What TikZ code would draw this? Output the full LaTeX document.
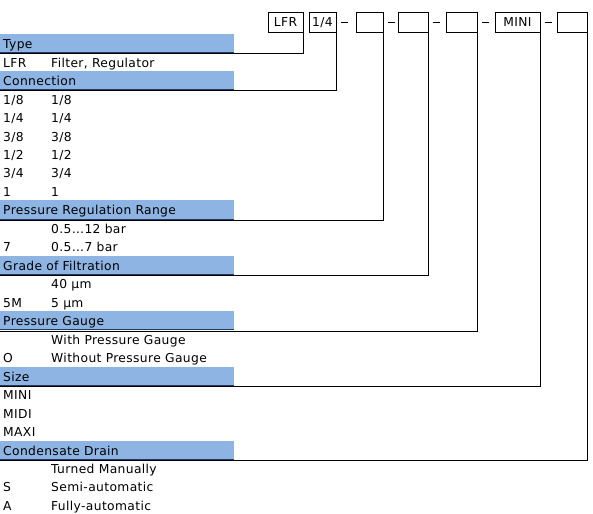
\documentclass[tikz,border=0pt]{standalone}
\usepackage{fontspec}
\setmainfont{DejaVu Sans}[LetterSpace=3]
\usetikzlibrary{positioning,calc}
\definecolor{barblue}{HTML}{8DB4E2}
\definecolor{barnavy}{HTML}{1F3864}

\begin{document}
\begin{tikzpicture}[x=1pt,y=-1pt,font=\fontsize{12.3}{14}\selectfont,
  codebox/.style={draw,line width=.9pt,minimum height=20.4pt,inner sep=0pt,text height=9pt,text depth=0pt},
  headbar/.style={fill=barblue,anchor=base west,inner xsep=3pt,inner ysep=0pt,text width=228pt,text height=14.5pt,text depth=3.7pt},
  cell/.style={anchor=base west,inner sep=0pt},
  wire/.style={line width=.9pt}]
\useasboundingbox (0,0) rectangle (593,513);
% order code boxes
\node[codebox,minimum width=35pt] (lfr) at (285.5,22.5) {LFR};
\node[codebox,minimum width=27pt] (port) at (322.5,22.5) {1/4};
\node[codebox,minimum width=27pt] (rangebox) at (369.5,22.5) {};
\node[codebox,minimum width=30pt] (filtbox) at (413,22.5) {};
\node[codebox,minimum width=31pt] (gaugebox) at (461.5,22.5) {};
\node[codebox,minimum width=45pt] (sizebox) at (517.5,22.5) {MINI};
\node[codebox,minimum width=30pt] (drainbox) at (572,22.5) {};
\foreach \a in {port,rangebox,filtbox,gaugebox,sizebox}{
\draw[wire] ($(\a.east)+(5,0)$) -- ++(7,0);}
% header bars
\foreach \r/\name/\txt in {0/type/Type,2/conn/Connection,9/range/Pressure Regulation Range,12/filt/Grade of Filtration,15/gauge/Pressure Gauge,18/size/Size,22/drain/Condensate Drain}{
\node[headbar] (\name) at (0,48.7+18.47*\r) {\txt};
\draw[barnavy,line width=.6pt] (\name.south west) -- (\name.south east);}
% connectors
\foreach \b/\h in {lfr/type,port/conn,rangebox/range,filtbox/filt,gaugebox/gauge,sizebox/size,drainbox/drain}{
\draw[wire] (\b.south east) |- ($(\h.south west)+(0,1.3)$);}
% codes and descriptions
\foreach \r/\c in {1/LFR,3/{1/8},4/{1/4},5/{3/8},6/{1/2},7/{3/4},8/1,11/7,14/5M,17/O,19/MINI,20/MIDI,21/MAXI,24/S,25/A}{
\node[cell] (code\r) at (3,48.7+18.47*\r) {\c};}
\foreach \r/\d in {1/{Filter, Regulator},3/{1/8},4/{1/4},5/{3/8},6/{1/2},7/{3/4},8/1,10/0.5…12 bar,11/0.5…7 bar,13/40 µm,14/5 µm,16/With Pressure Gauge,17/Without Pressure Gauge,23/Turned Manually,24/Semi-automatic,25/Fully-automatic}{
\node[cell] (desc\r) at (51,48.7+18.47*\r) {\d};}
\end{tikzpicture}
\end{document}
